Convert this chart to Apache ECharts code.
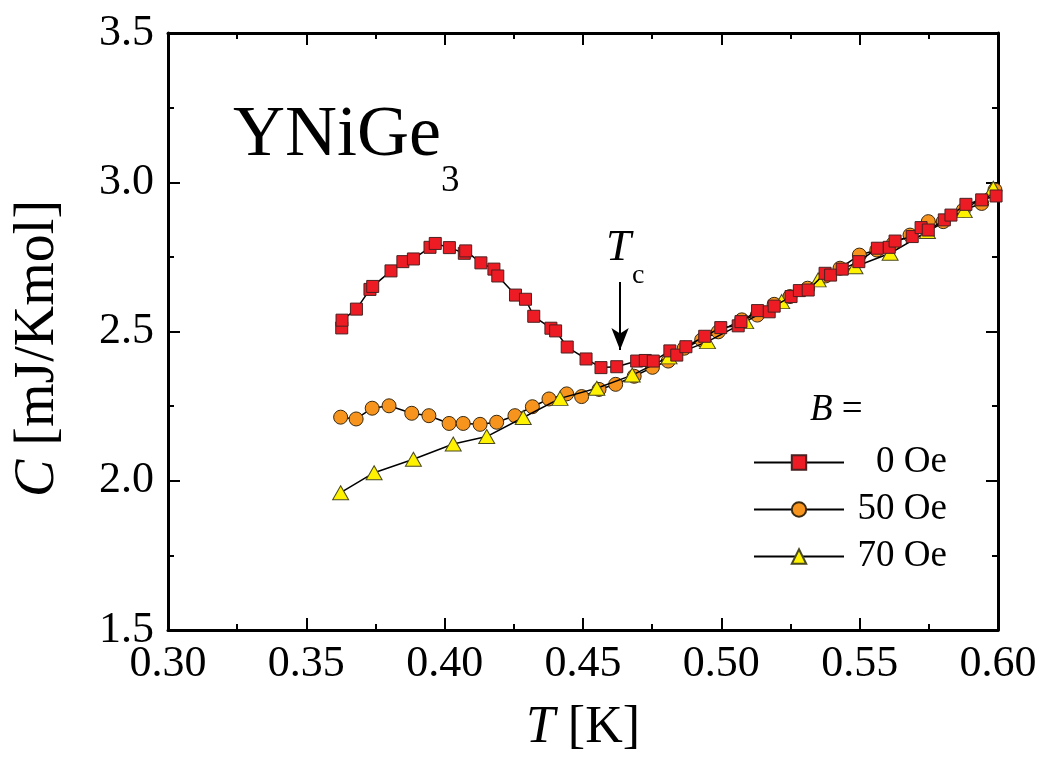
<!DOCTYPE html>
<html>
<head>
<meta charset="utf-8">
<script src="https://cdn.jsdelivr.net/npm/echarts@6/dist/echarts.min.js"></script>
<style>html,body{margin:0;padding:0;background:#fff;}#c{width:1045px;height:761px;}</style>
</head>
<body>
<div id="c"></div>
<script>
const xTicks = [0.30, 0.35, 0.40, 0.45, 0.50, 0.55, 0.60];
const yTicks = [1.5, 2.0, 2.5, 3.0, 3.5];
const seriesNames = ['0 Oe', '50 Oe', '70 Oe'];

const red0 = [
[0.3628,2.512],[0.3629,2.538],[0.3681,2.575],[0.3730,2.641],[0.3740,2.651],[0.3806,2.703],
[0.3849,2.734],[0.3887,2.743],[0.3947,2.782],[0.3966,2.795],[0.4017,2.781],[0.4071,2.762],
[0.4076,2.770],[0.4131,2.730],[0.4178,2.709],[0.4192,2.686],[0.4256,2.622],[0.4292,2.608],
[0.4322,2.551],[0.4384,2.511],[0.4401,2.502],[0.4443,2.448],[0.4511,2.408],[0.4565,2.379],
[0.4622,2.382],[0.4694,2.401],[0.4725,2.403],[0.4754,2.401],[0.4814,2.435],[0.4839,2.421],
[0.4872,2.449],[0.4940,2.484],[0.4998,2.513],[0.5061,2.519],[0.5071,2.533],[0.5131,2.570],
[0.5173,2.566],[0.5191,2.585],[0.5252,2.617],[0.5282,2.637],[0.5314,2.639],[0.5375,2.695],
[0.5395,2.689],[0.5437,2.709],[0.5497,2.734],[0.5564,2.779],[0.5607,2.782],[0.5628,2.803],
[0.5690,2.818],[0.5722,2.848],[0.5748,2.840],[0.5806,2.874],[0.5830,2.890],[0.5884,2.926],
[0.5941,2.941],[0.5993,2.954]
];
const orange50 = [
[0.3624,2.213],[0.3680,2.207],[0.3738,2.243],[0.3799,2.251],[0.3881,2.226],[0.3943,2.218],
[0.4016,2.192],[0.4067,2.192],[0.4128,2.189],[0.4188,2.196],[0.4254,2.218],[0.4317,2.248],
[0.4377,2.274],[0.4441,2.291],[0.4495,2.282],[0.4558,2.306],[0.4618,2.323],[0.4685,2.350],
[0.4751,2.380],[0.4808,2.401],[0.4866,2.444],[0.4929,2.472],[0.4989,2.499],[0.5074,2.539],
[0.5130,2.555],[0.5191,2.591],[0.5248,2.617],[0.5312,2.645],[0.5377,2.686],[0.5429,2.712],
[0.5499,2.756],[0.5562,2.773],[0.5622,2.795],[0.5682,2.823],[0.5748,2.868],[0.5802,2.868],
[0.5875,2.907],[0.5941,2.929],[0.5989,2.974]
];
const yellow70 = [
[0.3624,1.960],[0.3745,2.027],[0.3887,2.072],[0.4031,2.123],[0.4152,2.148],[0.4284,2.212],
[0.4417,2.276],[0.4550,2.310],[0.4678,2.354],[0.4811,2.415],[0.4950,2.466],[0.5088,2.533],
[0.5218,2.600],[0.5350,2.673],[0.5483,2.717],[0.5610,2.762],[0.5745,2.835],[0.5878,2.905],
[0.5983,2.980]
];
const tcArrow = [[0.4634, 2.666], [0.4634, 2.438]];

const FONT = '"Liberation Serif","Times New Roman",serif';
const chart = echarts.init(document.getElementById('c'), null, {renderer: 'canvas'});

const axisCommon = {
  type: 'value',
  axisLine: {show: true, lineStyle: {color: '#000', width: 3}},
  axisTick: {show: true, inside: true, length: 12, lineStyle: {color: '#000', width: 2}},
  minorTick: {show: true, splitNumber: 2, length: 6, lineStyle: {color: '#000', width: 2}},
  splitLine: {show: false},
  minorSplitLine: {show: false}
};

const option = {
  animation: false,
  backgroundColor: '#fff',
  grid: {left: 168, right: 47, top: 33, bottom: 131, containLabel: false},
  xAxis: [
    Object.assign({}, axisCommon, {
      min: xTicks[0], max: xTicks[xTicks.length - 1], interval: 0.05,
      position: 'bottom',
      axisLabel: {show: true, fontFamily: FONT, fontSize: 44, color: '#000', margin: 12,
        formatter: v => v.toFixed(2)},
      name: '{i|T} [K]', nameLocation: 'middle', nameGap: 72,
      nameTextStyle: {fontFamily: FONT, fontSize: 52, color: '#000',
        rich: {i: {fontFamily: FONT, fontSize: 52, fontStyle: 'italic', color: '#000'}}}
    }),
    Object.assign({}, axisCommon, {
      min: xTicks[0], max: xTicks[xTicks.length - 1], interval: 0.05,
      position: 'top', axisLabel: {show: false}
    })
  ],
  yAxis: [
    Object.assign({}, axisCommon, {
      min: yTicks[0], max: yTicks[yTicks.length - 1], interval: 0.5,
      position: 'left',
      axisLabel: {show: true, fontFamily: FONT, fontSize: 44, color: '#000', margin: 14,
        formatter: v => v.toFixed(1)},
      name: '{i|C} [mJ/Kmol]', nameLocation: 'middle', nameGap: 102,
      nameTextStyle: {fontFamily: FONT, fontSize: 56, color: '#000', padding: [0, 34, 0, 0],
        rich: {i: {fontFamily: FONT, fontSize: 56, fontStyle: 'italic', color: '#000'}}}
    }),
    Object.assign({}, axisCommon, {
      min: yTicks[0], max: yTicks[yTicks.length - 1], interval: 0.5,
      position: 'right', axisLabel: {show: false}
    })
  ],
  legend: {
    show: true,
    orient: 'vertical',
    left: 748, top: 439,
    itemWidth: 90, itemHeight: 18, itemGap: 10,
    data: seriesNames,
    formatter: n => '{a|' + n + '}',
    textStyle: {fontFamily: FONT, fontSize: 37, color: '#000', lineHeight: 37,
      rich: {a: {fontFamily: FONT, fontSize: 37, width: 98, align: 'right', color: '#000'}}}
  },
  series: [
    {
      name: seriesNames[0], type: 'line', data: red0, z: 5,
      symbol: 'rect', symbolSize: 12, showSymbol: true,
      lineStyle: {color: '#000', width: 1.5},
      itemStyle: {color: '#ed1c24', borderColor: '#4a2020', borderWidth: 1},
      markLine: {
        silent: true, symbol: ['none', 'arrow'], symbolSize: [13, 22],
        label: {show: false},
        lineStyle: {color: '#000', width: 2, type: 'solid'},
        data: [[{coord: tcArrow[0]}, {coord: tcArrow[1]}]]
      }
    },
    {
      name: seriesNames[1], type: 'line', data: orange50, z: 3,
      symbol: 'circle', symbolSize: 14, showSymbol: true,
      lineStyle: {color: '#000', width: 1.5},
      itemStyle: {color: '#f7941d', borderColor: '#3a2a10', borderWidth: 1}
    },
    {
      name: seriesNames[2], type: 'line', data: yellow70, z: 4,
      symbol: 'triangle', symbolSize: [16, 14], showSymbol: true,
      lineStyle: {color: '#000', width: 1.5},
      itemStyle: {color: '#fff200', borderColor: '#4a4a20', borderWidth: 1}
    }
  ],
  graphic: [
    {type: 'text', left: 233, top: 100, style: {text: 'YNiGe', font: '72px ' + FONT, fill: '#000'}},
    {type: 'text', left: 441, top: 163, style: {text: '3', font: '37px ' + FONT, fill: '#000'}},
    {type: 'text', left: 606, top: 226, style: {text: 'T', font: 'italic 45px ' + FONT, fill: '#000'}},
    {type: 'text', left: 632, top: 262, style: {text: 'c', font: '28px ' + FONT, fill: '#000'}},
    {type: 'text', left: 810, top: 392, style: {text: '{i|B} =', font: '37px ' + FONT, fill: '#000',
      rich: {i: {fontFamily: FONT, fontSize: 37, fontStyle: 'italic', fill: '#000'}}}}
  ]
};
chart.setOption(option);
</script>
</body>
</html>
